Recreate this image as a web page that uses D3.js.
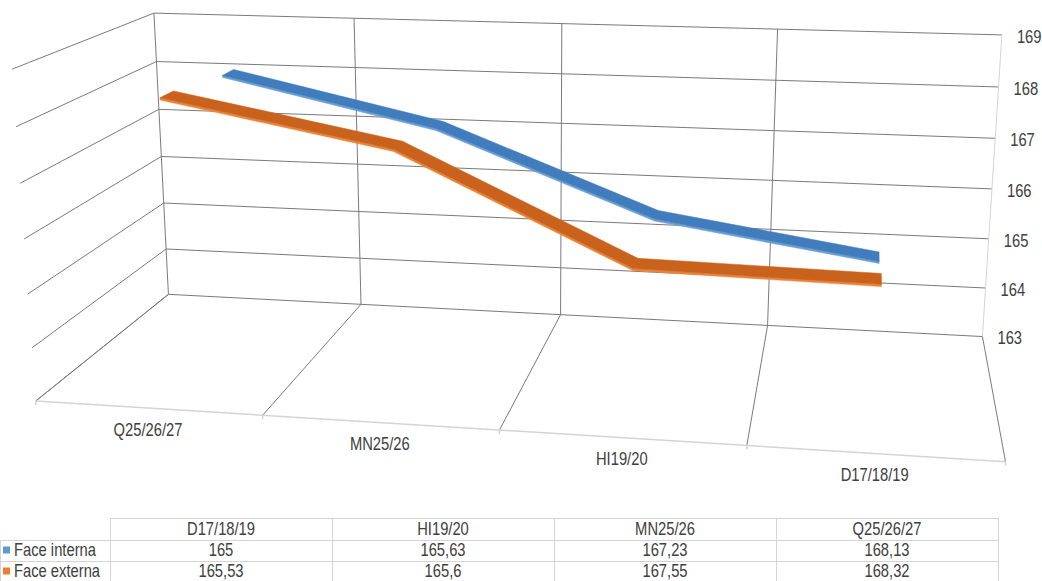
<!DOCTYPE html>
<html>
<head>
<meta charset="utf-8">
<script src="https://cdn.jsdelivr.net/npm/d3@7/dist/d3.min.js"></script>
<style>
body{margin:0;background:#fff;}
svg text{font-family:"Liberation Sans",Arial,sans-serif;font-size:18px;fill:#404040;}
</style>
</head>
<body>
<svg id="chart" width="1042" height="581"></svg>
<script>
var categories = ["D17/18/19", "HI19/20", "MN25/26", "Q25/26/27"];
var faceInterna = [165, 165.63, 167.23, 168.13];
var faceExterna = [165.53, 165.6, 167.55, 168.32];
var seriesNames = ["Face interna", "Face externa"];
var valueTicks = [163, 164, 165, 166, 167, 168, 169];

var series = [
	{name: seriesNames[0], values: faceInterna, top: "#417dbc", front: "#6a9fd6", key: "#5b9bd5"},
	{name: seriesNames[1], values: faceExterna, top: "#c8621c", front: "#ec8438", key: "#ed7d31"}
];

var svg = d3.select("#chart");
var grid = svg.append("g");
var marks = svg.append("g");
var labels = svg.append("g");
var table = svg.append("g");

//box coordinates: u = category (left->right), v = value, w = depth (0 back wall, 1 front)
var xBand = d3.scaleBand().domain(categories.slice().reverse()).range([0, 1]);
var yScale = d3.scaleLinear().domain([163, 169]).range([0, 1]);
var zBand = d3.scaleBand().domain(seriesNames).range([0, 1]);

//frame calibration: where the corners of the box sit on the page
var frame = [
	[0,1,0,154,13],[0.25,1,0,354,18],[0.75,1,0,778,30],[1,1,0,1002,34],
	[0,0,0,168,295],[0.25,0,0,361,304],[0.5,0,0,560,314],[0.75,0,0,768,325],[1,0,0,983,337],
	[0,5/6,0,156,62],[0,4/6,0,160,109],[0,3/6,0,162,157],[0,2/6,0,163,203],[0,1/6,0,166,249],
	[1,5/6,0,998,87],[1,4/6,0,995,138],[1,3/6,0,992,189],[1,2/6,0,989,239],[1,1/6,0,985,288],
	[0,1,1,12,69],[0,5/6,1,16,127],[0,4/6,1,20,183],[0,3/6,1,24,239],[0,2/6,1,28,294],[0,1/6,1,32,348],[0,0,1,36,400],
	[0.25,0,1,263,415],[0.5,0,1,500,430],[0.75,0,1,747,446],[1,0,1,1005,462]
];

//least squares fit of a 3x4 perspective camera (DLT)
function fitcamera(pts){
	var A = [], b = [];
	pts.forEach(function(p){
		var X=p[0], Y=p[1], Z=p[2], x=p[3], y=p[4];
		A.push([X,Y,Z,1,0,0,0,0,-x*X,-x*Y,-x*Z]); b.push(x);
		A.push([0,0,0,0,X,Y,Z,1,-y*X,-y*Y,-y*Z]); b.push(y);
	});
	var n = 11, M = [];
	for(var i=0; i<n; i++){
		M[i] = [];
		for(var j=0; j<=n; j++){
			var s = 0;
			for(var k=0; k<A.length; k++){ s += A[k][i]*(j<n ? A[k][j] : b[k]); }
			M[i][j] = s;
		}
	}
	for(var c=0; c<n; c++){
		var piv = c;
		for(var r=c+1; r<n; r++){ if(Math.abs(M[r][c]) > Math.abs(M[piv][c])) piv = r; }
		var tmp = M[c]; M[c] = M[piv]; M[piv] = tmp;
		for(var r=0; r<n; r++){
			if(r==c) continue;
			var f = M[r][c]/M[c][c];
			for(var j=c; j<=n; j++){ M[r][j] -= f*M[c][j]; }
		}
	}
	return M.map(function(row, i){ return row[n]/row[i]; });
}

var cam = fitcamera(frame);
function project(u, v, w){
	var d = cam[8]*u + cam[9]*v + cam[10]*w + 1;
	return [(cam[0]*u + cam[1]*v + cam[2]*w + cam[3])/d, (cam[4]*u + cam[5]*v + cam[6]*w + cam[7])/d];
}
function seg(a, b){ return "M" + project.apply(null, a) + "L" + project.apply(null, b); }

//narrow text (no condensed font installed, so squeeze it)
function ntext(g, x, y, str, anchor){
	return g.append("text")
		.attr("transform", "translate(" + x + "," + y + ") scale(0.82,1)")
		.attr("text-anchor", anchor || "start")
		.attr("dominant-baseline", "middle")
		.text(str);
}

var gridcol = "#7a7a7a", axiscol = "#d4d4d4";
var bounds = d3.range(0, categories.length + 1).map(function(i){ return i/categories.length; });

//back wall + left wall value gridlines
valueTicks.forEach(function(t){
	var v = yScale(t);
	grid.append("path").attr("d", seg([0,v,0],[1,v,0])).attr("stroke", gridcol).attr("fill","none");
	grid.append("path").attr("d", seg([0,v,0],[0,v,1])).attr("stroke", gridcol).attr("fill","none");
});
//category gridlines on back wall and floor
bounds.forEach(function(u){
	grid.append("path").attr("d", seg([u,0,0],[u,1,0])).attr("stroke", u==1 ? axiscol : gridcol).attr("fill","none");
	grid.append("path").attr("d", seg([u,0,0],[u,0,1])).attr("stroke", gridcol).attr("fill","none");
});
//category axis line + ticks
grid.append("path").attr("d", seg([0,0,1],[1,0,1])).attr("stroke", axiscol).attr("stroke-width",1.5).attr("fill","none");
bounds.forEach(function(u){
	var p = project(u,0,1);
	grid.append("line").attr("x1",p[0]).attr("x2",p[0]).attr("y1",p[1]).attr("y2",p[1]+4).attr("stroke",axiscol).attr("stroke-width",1.5);
});

//ribbons, back series first
var thick = 0.04, ribbon = 0.1;
series.forEach(function(s){
	var wc = zBand(s.name) + zBand.bandwidth()/2;
	var w0 = wc - ribbon/2, w1 = wc + ribbon/2;
	var pts = categories.map(function(c, i){
		return {u: xBand(c) + xBand.bandwidth()/2, v: yScale(s.values[i]), lo: yScale(s.values[i] - thick)};
	}).sort(function(a, b){ return a.u - b.u; });

	var front = pts.map(function(p){ return project(p.u, p.v, w1); })
		.concat(pts.slice().reverse().map(function(p){ return project(p.u, p.lo, w1); }));
	marks.append("path").attr("d", d3.line()(front) + "Z").attr("fill", s.front).attr("stroke", s.front).attr("stroke-width", 0.5);

	var top = pts.map(function(p){ return project(p.u, p.v, w0); })
		.concat(pts.slice().reverse().map(function(p){ return project(p.u, p.v, w1); }));
	marks.append("path").attr("d", d3.line()(top) + "Z").attr("fill", s.top).attr("stroke", s.top).attr("stroke-width", 0.5);
});

//value axis labels on the right
valueTicks.forEach(function(t){
	var p = project(1, yScale(t), 0);
	ntext(labels, p[0] + 15, p[1] + 3, t);
});
//category labels under the floor
categories.forEach(function(c){
	var p = project(xBand(c) + xBand.bandwidth()/2, 0, 1);
	ntext(labels, p[0], p[1] + 23, c, "middle");
});

//data table
var fmt = d3.formatLocale({decimal: ",", thousands: ".", grouping: [3], currency: ["", ""]}).format("~g");
var tx = d3.scaleBand().domain(categories).range([110, 998]);
var rowY = [518, 540, 561, 582];
var tcol = "#d4d4d4";
table.append("line").attr("x1",110).attr("x2",998).attr("y1",rowY[0]+0.5).attr("y2",rowY[0]+0.5).attr("stroke",tcol);
[rowY[1], rowY[2]].forEach(function(y){
	table.append("line").attr("x1",0).attr("x2",998).attr("y1",y+0.5).attr("y2",y+0.5).attr("stroke",tcol);
});
table.append("line").attr("x1",0.5).attr("x2",0.5).attr("y1",rowY[1]).attr("y2",rowY[3]).attr("stroke",tcol);
categories.forEach(function(c){
	table.append("line").attr("x1",tx(c)+0.5).attr("x2",tx(c)+0.5).attr("y1",rowY[0]).attr("y2",rowY[3]).attr("stroke",tcol);
	ntext(table, tx(c) + tx.bandwidth()/2, (rowY[0]+rowY[1])/2 + 1, c, "middle");
});
table.append("line").attr("x1",998.5).attr("x2",998.5).attr("y1",rowY[0]).attr("y2",rowY[3]).attr("stroke",tcol);
series.forEach(function(s, r){
	var yc = (rowY[r+1] + rowY[r+2])/2 + 1;
	table.append("rect").attr("x",3).attr("y",yc-5).attr("width",7).attr("height",7).attr("fill",s.key);
	ntext(table, 14, yc, s.name);
	categories.forEach(function(c, i){
		ntext(table, tx(c) + tx.bandwidth()/2, yc, fmt(s.values[i]), "middle");
	});
});
</script>
</body>
</html>
